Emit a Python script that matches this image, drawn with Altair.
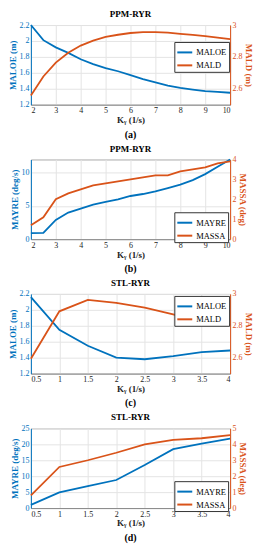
import altair as alt
import pandas as pd

# ---------------- data ----------------
x_ppm = [2, 2.5, 3, 3.5, 4, 4.5, 5, 5.5, 6, 6.5, 7, 7.5, 8, 8.5, 9, 9.5, 10]
a_maloe = [2.20, 2.01, 1.92, 1.85, 1.77, 1.71, 1.66, 1.62, 1.57, 1.52, 1.48, 1.44, 1.41, 1.39, 1.37, 1.36, 1.35]
a_mald = [2.558, 2.677, 2.764, 2.826, 2.871, 2.902, 2.925, 2.939, 2.950, 2.955, 2.956, 2.952, 2.945, 2.938, 2.930, 2.921, 2.912]
b_mayre = [0.9, 0.95, 2.9, 4.0, 4.6, 5.2, 5.6, 6.0, 6.5, 6.8, 7.2, 7.7, 8.2, 8.9, 9.8, 10.9, 12.0]
b_massa = [0.7, 1.1, 2.0, 2.3, 2.5, 2.7, 2.8, 2.9, 3.0, 3.1, 3.2, 3.2, 3.4, 3.5, 3.6, 3.8, 3.9]

x_stl = [0.5, 1, 1.5, 2, 2.5, 3, 3.5, 4]
c_maloe = [2.16, 1.75, 1.55, 1.40, 1.38, 1.42, 1.47, 1.49]
c_mald = [2.593, 2.891, 2.963, 2.944, 2.914, 2.872, 2.823, 2.805]
d_mayre = [1.0, 4.9, 6.9, 8.8, 13.5, 18.5, 20.2, 21.8]
d_massa = [0.8, 2.58, 3.0, 3.47, 3.99, 4.28, 4.38, 4.57]

ticks_ppm = [2, 3, 4, 5, 6, 7, 8, 9, 10]
ticks_stl = [0.5, 1, 1.5, 2, 2.5, 3, 3.5, 4]

BLUE = "#0072BD"
ORANGE = "#D95319"
FONT = "Liberation Serif"
W, H = 200, 80
LEG_W, LEG_H = 54, 24
LBL = "'' + datum.value"


def panel(title, caption, xs, y1, y2, n1, n2, t1, t2, d1, d2, ticks1, ticks2,
          xdom, xticks, legy):
    df1 = pd.DataFrame({"x": xs, "v": y1, "s": n1})
    df2 = pd.DataFrame({"x": xs, "v": y2, "s": n2})
    color = alt.Color(
        "s:N",
        scale=alt.Scale(domain=[n1, n2], range=[BLUE, ORANGE]),
        legend=alt.Legend(
            title=None, orient="none", legendX=W - LEG_W - 2, legendY=legy,
            symbolType="stroke", symbolSize=225, symbolStrokeWidth=2,
            labelFont=FONT, labelFontSize=8.5, labelColor="#000",
            fillColor="white", strokeColor="#333", padding=2,
            rowPadding=0, labelOffset=3,
        ),
    )
    xenc = alt.X(
        "x:Q",
        scale=alt.Scale(domain=xdom, nice=False, zero=False),
        axis=alt.Axis(values=xticks, labelExpr=LBL, title="K\u1D67 (1/s)",
                      grid=True, ticks=False, domainColor="#888"),
    )
    l1 = alt.Chart(df1).mark_line(strokeWidth=1.8).encode(
        x=xenc,
        y=alt.Y("v:Q", scale=alt.Scale(domain=d1, nice=False, zero=False),
                axis=alt.Axis(orient="left", title=t1, values=ticks1, labelExpr=LBL,
                              labelColor=BLUE, titleColor=BLUE, domainColor=BLUE,
                              grid=True, ticks=False)),
        color=color,
    )
    l2 = alt.Chart(df2).mark_line(strokeWidth=1.8).encode(
        x=xenc,
        y=alt.Y("v:Q", scale=alt.Scale(domain=d2, nice=False, zero=False),
                axis=alt.Axis(orient="right", title=t2, values=ticks2, labelExpr=LBL,
                              labelColor=ORANGE, titleColor=ORANGE, domainColor=ORANGE,
                              grid=False, ticks=False)),
        color=color,
    )
    cap = alt.Chart(pd.DataFrame({"t": [caption]})).mark_text(
        font=FONT, fontSize=10, fontWeight="bold", baseline="middle"
    ).encode(text="t:N", x=alt.value(W / 2), y=alt.value(H + 30))
    return alt.layer(l1, l2, cap).resolve_scale(y="independent").properties(
        width=W, height=H,
        title=alt.TitleParams(title, font=FONT, fontSize=9, fontWeight="bold",
                              offset=2, anchor="middle"),
    )


BOT = H - LEG_H - 3
pa = panel("PPM-RYR", "(a)", x_ppm, a_maloe, a_mald, "MALOE", "MALD",
           "MALOE (m)", "MALD (m)", [1.2, 2.2], [2.5, 3.0],
           [1.2, 1.4, 1.6, 1.8, 2.0, 2.2], [2.6, 2.8, 3.0], [2, 10], ticks_ppm, 17)
pb = panel("PPM-RYR", "(b)", x_ppm, b_mayre, b_massa, "MAYRE", "MASSA",
           "MAYRE (deg/s)", "MASSA (deg)", [0, 12], [0, 4],
           [0, 5, 10], [0, 1, 2, 3, 4], [2, 10], ticks_ppm, BOT)
pc = panel("STL-RYR", "(c)", x_stl, c_maloe, c_mald, "MALOE", "MALD",
           "MALOE (m)", "MALD (m)", [1.2, 2.2], [2.5, 3.0],
           [1.2, 1.4, 1.6, 1.8, 2.0, 2.2], [2.6, 2.8, 3.0], [0.5, 4], ticks_stl, 2)
pd_ = panel("STL-RYR", "(d)", x_stl, d_mayre, d_massa, "MAYRE", "MASSA",
            "MAYRE (deg/s)", "MASSA (deg)", [0, 25], [0, 5],
            [0, 5, 10, 15, 20, 25], [0, 1, 2, 3, 4, 5], [0.5, 4], ticks_stl, BOT)

chart = alt.vconcat(pa, pb, pc, pd_, spacing=3).resolve_scale(color="independent").properties(
    padding=0
).configure_view(stroke="#aaaaaa").configure_axis(
    labelFont=FONT, titleFont=FONT, labelFontSize=8, titleFontSize=9,
    titleFontWeight="bold", labelPadding=2, titlePadding=1,
    gridColor="#e4e4e4", labelColor="#222", titleColor="#222",
)

chart.save("out.html", embed_options={"renderer": "svg", "actions": False})
